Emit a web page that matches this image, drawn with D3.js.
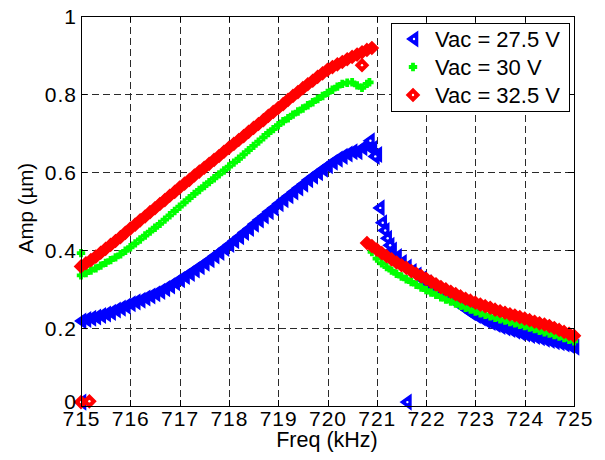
<!DOCTYPE html>
<html>
<head>
<meta charset="utf-8">
<script src="https://cdn.jsdelivr.net/npm/d3@7"></script>
<style>
  html, body { margin: 0; padding: 0; background: #fff; }
  svg { display: block; font-family: Arial, "Liberation Sans", Helvetica, sans-serif; }
</style>
</head>
<body>
<svg id="chart" width="605" height="460"></svg>
<script>
// Frequency sweep (kHz) and measured amplitudes (µm) for three drive voltages.
// Upper branch: sweep up to the jump; lower branch: after the jump.

const xTicks = [715, 716, 717, 718, 719, 720, 721, 722, 723, 724, 725];
const yTicks = [0, 0.2, 0.4, 0.6, 0.8, 1];
const yTickLabels = ["0", "0.2", "0.4", "0.6", "0.8", "1"];
const legendLabels = ["Vac = 27.5 V", "Vac = 30 V", "Vac = 32.5 V"];

// Vac = 27.5 V
const blueUpperStart = 715.0;
const blueUpper = [
  0.218, 0.222, 0.225, 0.228, 0.232, 0.236, 0.240, 0.246, 0.251, 0.256,
  0.262, 0.267, 0.271, 0.277, 0.282, 0.288, 0.294, 0.301, 0.308, 0.316,
  0.324, 0.332, 0.340, 0.349, 0.357, 0.366, 0.375, 0.385, 0.394, 0.404,
  0.414, 0.424, 0.434, 0.445, 0.455, 0.466, 0.477, 0.487, 0.498, 0.508,
  0.519, 0.529, 0.539, 0.549, 0.559, 0.569, 0.580, 0.589, 0.598, 0.607,
  0.616, 0.625, 0.633, 0.640, 0.646, 0.652, 0.652, 0.662, 0.667, 0.660,
  0.645
];
const blueLowerStart = 721.3;
const blueLower = [
  0.400, 0.383, 0.368, 0.356, 0.345, 0.336, 0.326,
  0.316, 0.307, 0.299, 0.291, 0.283, 0.275, 0.266, 0.257, 0.248, 0.239,
  0.232, 0.226, 0.219, 0.214, 0.209, 0.204, 0.200, 0.196, 0.192, 0.188,
  0.185, 0.181, 0.178, 0.175, 0.171, 0.168, 0.165, 0.162, 0.159, 0.155,
  0.151
];
const blueExtra = [
  [720.85, 0.680], [720.95, 0.640], [721.05, 0.508], [721.10, 0.470],
  [721.15, 0.450], [721.20, 0.430], [721.25, 0.412],
  [715.0, 0.010], [721.6, 0.010]
];

// Vac = 30 V
const greenUpperStart = 715.0;
const greenUpper = [
  0.335, 0.341, 0.347, 0.353, 0.360, 0.367, 0.374, 0.381, 0.389, 0.398,
  0.407, 0.417, 0.427, 0.437, 0.447, 0.457, 0.467, 0.478, 0.489, 0.500,
  0.511, 0.522, 0.533, 0.544, 0.554, 0.564, 0.574, 0.584, 0.594, 0.604,
  0.614, 0.624, 0.634, 0.645, 0.656, 0.667, 0.678, 0.689, 0.700, 0.710,
  0.720, 0.730, 0.738, 0.747, 0.755, 0.763, 0.771, 0.779, 0.787, 0.795,
  0.803, 0.811, 0.819, 0.826, 0.829, 0.830, 0.822, 0.816, 0.826
];
const greenLowerStart = 720.9;
const greenLower = [
  0.395, 0.378, 0.366, 0.356, 0.347, 0.339, 0.332, 0.325, 0.318, 0.311,
  0.304, 0.297, 0.291, 0.285, 0.279, 0.273, 0.268, 0.263, 0.257, 0.252,
  0.247, 0.242, 0.238, 0.234, 0.230, 0.226, 0.222, 0.219, 0.215, 0.212,
  0.208, 0.205, 0.201, 0.197, 0.193, 0.189, 0.186, 0.182, 0.178, 0.174,
  0.170, 0.166
];
const greenExtra = [[720.85, 0.830], [715.0, 0.392]];

// Vac = 32.5 V
const redUpperStart = 715.0;
const redUpper = [
  0.358, 0.366, 0.374, 0.383, 0.393, 0.403, 0.413, 0.423, 0.433, 0.444,
  0.455, 0.465, 0.476, 0.486, 0.497, 0.507, 0.518, 0.528, 0.539, 0.549,
  0.560, 0.570, 0.580, 0.591, 0.601, 0.611, 0.621, 0.631, 0.641, 0.652,
  0.662, 0.672, 0.682, 0.692, 0.703, 0.713, 0.723, 0.733, 0.744, 0.754,
  0.764, 0.774, 0.785, 0.795, 0.805, 0.815, 0.825, 0.834, 0.844, 0.853,
  0.862, 0.869, 0.876, 0.882, 0.889, 0.895, 0.901, 0.907, 0.913, 0.918
];
const redLowerStart = 720.8;
const redLower = [
  0.418, 0.410, 0.401, 0.392, 0.384, 0.376, 0.368, 0.361, 0.354, 0.346,
  0.339, 0.333, 0.326, 0.319, 0.312, 0.305, 0.299, 0.293, 0.287, 0.281,
  0.275, 0.270, 0.265, 0.260, 0.256, 0.252, 0.247, 0.243, 0.239, 0.235,
  0.232, 0.228, 0.224, 0.220, 0.216, 0.212, 0.209, 0.205, 0.200, 0.195,
  0.190, 0.185, 0.180
];
const redExtra = [[720.7, 0.874], [715.0, 0.010], [715.17, 0.012]];

const sweepStep = 0.1;

// pair a branch's amplitudes with its sweep frequencies
function branch(start, values) {
  return values.map((v, i) => [+(start + i * sweepStep).toFixed(2), v]);
}

const series = [
  { name: legendLabels[0], color: "#0000ff", marker: "tri",
    band: branch(blueUpperStart, blueUpper).concat(branch(blueLowerStart, blueLower)),
    extra: blueExtra },
  { name: legendLabels[1], color: "#00ff00", marker: "plus",
    band: branch(greenUpperStart, greenUpper).concat(branch(greenLowerStart, greenLower)),
    extra: greenExtra },
  { name: legendLabels[2], color: "#ff0000", marker: "diamond",
    band: branch(redUpperStart, redUpper).concat(branch(redLowerStart, redLower)),
    extra: redExtra }
];

const svg = d3.select("#chart");
const plot = { left: 81, right: 574, top: 16, bottom: 406 };

const x = d3.scaleLinear().domain([715, 725]).range([plot.left, plot.right]);
const y = d3.scaleLinear().domain([0, 1]).range([plot.bottom, plot.top]);

// dashed grid
const grid = svg.append("g").attr("stroke", "#2a2a2a").attr("stroke-width", 1)
  .attr("stroke-dasharray", "7,4").attr("shape-rendering", "crispEdges");
grid.selectAll("line.gx").data(xTicks.slice(1, -1)).join("line")
  .attr("x1", d => Math.round(x(d)) + 0.5).attr("x2", d => Math.round(x(d)) + 0.5)
  .attr("y1", plot.top).attr("y2", plot.bottom);
grid.selectAll("line.gy").data(yTicks.slice(1, -1)).join("line")
  .attr("y1", d => Math.round(y(d)) + 0.5).attr("y2", d => Math.round(y(d)) + 0.5)
  .attr("x1", plot.left).attr("x2", plot.right);

// marker shapes
const markerPath = {
  tri: "M-5.5,0L4.5,-7L4.5,7Z",
  diamond: "M0,-6.2L6.2,0L0,6.2L-6.2,0Z",
  plus: "M-4.2,0H4.2M0,-4.2V4.2"
};
function drawMarker(sel, s) {
  sel.attr("d", markerPath[s.marker])
    .attr("fill", s.marker === "plus" ? "none" : s.color)
    .attr("stroke", s.color)
    .attr("stroke-width", s.marker === "plus" ? 3.8 : 1.6)
    .attr("stroke-linejoin", "miter");
}
// isolated markers show the small open centre of the symbol
function drawCentre(sel, s) {
  if (s.marker === "plus") return;
  sel.append("circle").attr("r", 1.2).attr("fill", "#fff")
    .attr("cx", s.marker === "tri" ? 1 : 0);
}

const dataG = svg.append("g");
series.forEach(s => {
  const g = dataG.append("g");
  g.selectAll("path.band").data(s.band).join("path").attr("class", "band")
    .attr("transform", d => `translate(${x(d[0])},${y(d[1])})`)
    .call(drawMarker, s);
  const ex = g.selectAll("g.extra").data(s.extra).join("g").attr("class", "extra")
    .attr("transform", d => `translate(${x(d[0])},${y(d[1])})`);
  ex.append("path").call(drawMarker, s);
  ex.each(function () { drawCentre(d3.select(this), s); });
});

// axes box with inward ticks on all sides
const axisG = svg.append("g").attr("stroke", "#000").attr("stroke-width", 1)
  .attr("shape-rendering", "crispEdges").attr("fill", "none");
axisG.append("rect")
  .attr("x", plot.left + 0.5).attr("y", plot.top + 0.5)
  .attr("width", plot.right - plot.left).attr("height", plot.bottom - plot.top);
const tl = 6;
xTicks.forEach(t => {
  const px = Math.round(x(t)) + 0.5;
  axisG.append("line").attr("x1", px).attr("x2", px).attr("y1", plot.bottom).attr("y2", plot.bottom - tl);
  axisG.append("line").attr("x1", px).attr("x2", px).attr("y1", plot.top).attr("y2", plot.top + tl);
});
yTicks.forEach(t => {
  const py = Math.round(y(t)) + 0.5;
  axisG.append("line").attr("y1", py).attr("y2", py).attr("x1", plot.left).attr("x2", plot.left + tl);
  axisG.append("line").attr("y1", py).attr("y2", py).attr("x1", plot.right).attr("x2", plot.right - tl);
});

// tick labels
const tickFont = 21;
svg.append("g").selectAll("text").data(xTicks).join("text")
  .attr("x", d => x(d) + 0.5).attr("y", 426)
  .attr("text-anchor", "middle").attr("font-size", tickFont)
  .attr("letter-spacing", 1).attr("fill", "#000")
  .text(d => d);
// the bottom label is nudged up so it clears the x tick labels
svg.append("g").selectAll("text").data(yTicks).join("text")
  .attr("x", 77).attr("y", d => d === 0 ? y(d) - 5 : y(d)).attr("dy", "0.36em")
  .attr("text-anchor", "end").attr("font-size", tickFont)
  .attr("letter-spacing", 1).attr("fill", "#000")
  .text((d, i) => yTickLabels[i]);

// axis titles
svg.append("text").attr("x", 327).attr("y", 447).attr("text-anchor", "middle")
  .attr("font-size", 21.5).attr("fill", "#000").text("Freq (kHz)");
svg.append("text").attr("transform", "translate(33,208) rotate(-90)")
  .attr("text-anchor", "middle").attr("font-size", 20.5).attr("fill", "#000")
  .text("Amp (\u00b5m)");

// legend
const lg = svg.append("g");
lg.append("rect").attr("x", 391.5).attr("y", 23.5).attr("width", 178).attr("height", 88)
  .attr("fill", "#fff").attr("stroke", "#000").attr("stroke-width", 1)
  .attr("shape-rendering", "crispEdges");
series.forEach((s, i) => {
  const cy = 39 + i * 28;
  const m = lg.append("g").attr("transform", `translate(413,${cy})`);
  m.append("path").call(drawMarker, s);
  drawCentre(m, s);
  lg.append("text").attr("x", 435).attr("y", cy + 8).attr("font-size", 22)
    .attr("fill", "#000").text(s.name);
});
</script>
</body>
</html>
